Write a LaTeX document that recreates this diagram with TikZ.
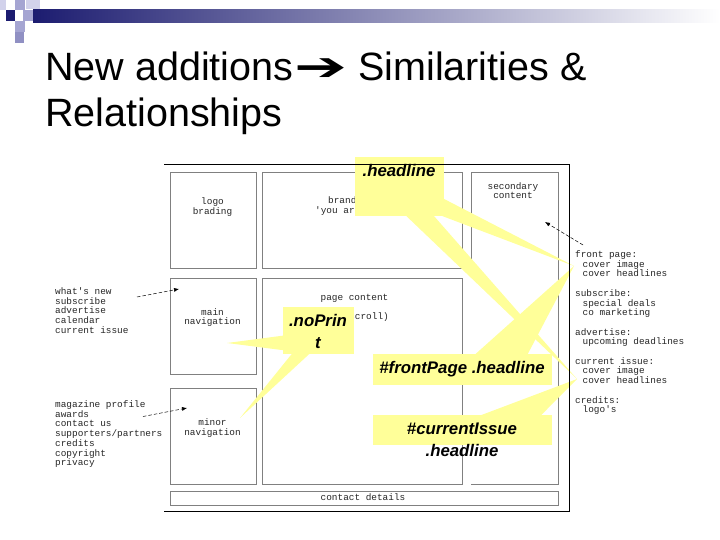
\documentclass[tikz,border=0pt]{standalone}
\usepackage{fontspec}
\setmainfont{Liberation Sans}
\newfontfamily\wirefont{Liberation Mono}
\newfontfamily\symfont{DejaVu Sans}
\usepackage{tikz}
\usetikzlibrary{arrows.meta,positioning,calc}
\definecolor{callyellow}{RGB}{255,255,153}
\definecolor{navy}{RGB}{28,28,112}
\definecolor{lav}{RGB}{165,165,210}
\definecolor{lavlight}{RGB}{210,210,235}
\definecolor{wiregray}{RGB}{128,128,128}

\begin{document}
\begin{tikzpicture}[x=1pt,y=-1pt,
  >={Latex[length=5pt,width=4pt]},
  wbox/.style={draw=wiregray,line width=0.8pt,inner sep=0pt,anchor=north west},
  wtxt/.style={font=\wirefont\fontsize{9.4}{9.7}\selectfont,inner sep=0pt,text=black!85},
  call/.style={fill=callyellow,inner sep=0pt,anchor=north west},
  calltxt/.style={font=\fontsize{16.8}{21.7}\selectfont\bfseries\itshape,inner sep=0pt,align=center},
  ptr/.style={->,line width=0.5pt,dash pattern=on 3.5pt off 2pt}
]
\useasboundingbox (0,0) rectangle (720,540);

% header band and squares
\shade[left color=navy,right color=white] (33,10) rectangle (720,23);
\fill[lavlight] (0,0) rectangle (6,10);
\fill[lav] (15,0) rectangle (25,10);
\fill[lavlight] (26,0) rectangle (40,9);
\fill[navy] (6,10) rectangle (15,21);
\fill[lav] (23,10) rectangle (33,21);
\fill[lav] (15,21) rectangle (25,32);
\fill[lav!85!navy] (15,32) rectangle (24,43);

% title
\node[anchor=base west,inner sep=0pt,font=\fontsize{39.5}{46}\selectfont] (title) at (45,81)
  {New additions {\symfont\kern-10pt\scalebox{1.6}[1]{➔}} Similarities \&};
\node[anchor=base west,inner sep=0pt,font=\fontsize{39.5}{46}\selectfont] (title2) at (45,127) {Relationships};

% wireframe
\node[wbox,minimum width=86,minimum height=96] (logo) at (170,172) {};
\node[wbox,minimum width=200,minimum height=96] (brand) at (262,172) {};
\node[wbox,minimum width=86,minimum height=96] (mainnav) at (170,278) {};
\node[wbox,minimum width=86,minimum height=96] (minornav) at (170,388) {};
\node[wbox,minimum width=200,minimum height=206] (page) at (262,278) {};
\node[wbox,minimum width=388,minimum height=14] (contact) at (170,491) {};
\draw[wiregray,line width=0.8pt] (471,268) -- (471,172) -- (558,172) -- (558,484) -- (471,484);
\coordinate (secne) at (558,172);

\node[wtxt,align=center] (logotxt) at (212.5,207) {logo\\brading};
\node[wtxt,anchor=base west] (brandtxt) at (328,204) {brand};
\node[wtxt,anchor=base west] (herertxt) at (315,214) {'you are here'};
\node[wtxt,align=center] (sectxt) at (513,190.5) {secondary\\content};
\node[wtxt,align=center] (maintxt) at (212.5,317.5) {main\\navigation};
\node[wtxt,align=center] (minortxt) at (212.5,428) {minor\\navigation};
\node[wtxt] (pagetxt) at (354.5,298.5) {page content};
\node[wtxt,anchor=east] (scrolltxt) at (389,317.5) {(scroll)};
\node[wtxt] (contacttxt) at (363,497.5) {contact details};

\node[wtxt,align=left,anchor=north west] (whatsnew) at (55,287.5)
  {what's new\\subscribe\\advertise\\calendar\\current issue};
\node[wtxt,align=left,anchor=north west] (profile) at (55,400.5)
  {magazine profile\\awards\\contact us\\supporters/partners\\credits\\copyright\\privacy};
\node[wtxt,align=left,anchor=north west] (features) at (575,250.5)
  {front page:\\\hspace*{7.5pt}cover image\\\hspace*{7.5pt}cover headlines\\[9.7pt]
   subscribe:\\\hspace*{7.5pt}special deals\\\hspace*{7.5pt}co marketing\\[9.7pt]
   advertise:\\\hspace*{7.5pt}upcoming deadlines\\[9.7pt]
   current issue:\\\hspace*{7.5pt}cover image\\\hspace*{7.5pt}cover headlines\\[9.7pt]
   credits:\\\hspace*{7.5pt}logo's};

% pointers
\coordinate (wnfrom) at (137,297);
\coordinate (mpfrom) at (143,416.5);
\coordinate (fpfrom) at (583,245);
\draw[ptr] (wnfrom) -- ([xshift=9pt,yshift=-11pt]mainnav.north west);
\draw[ptr] (mpfrom) -- ([xshift=17pt,yshift=-20pt]minornav.north west);
\draw[ptr] (fpfrom) -- ([xshift=-13pt,yshift=-50pt]secne);

% callouts
\coordinate (tipfront) at (574,266);
\coordinate (tipissue) at (577,379);
\coordinate (tipmain) at (227,343);
\coordinate (tipminor) at (240,418);
\node[call,minimum width=89.7,minimum height=59] (hlbox) at (354.3,156.7) {};
\node[call,minimum width=70.6,minimum height=47.3] (npbox) at (282.7,306.7) {};
\node[call,minimum width=179.4,minimum height=30.7] (fpbox) at (372.3,354) {};
\node[call,minimum width=179.4,minimum height=30.7] (cibox) at (372.3,414.3) {};
\fill[callyellow] ([xshift=-2pt,yshift=18pt]hlbox.south east) -- (tipfront) -- ([xshift=-2pt]hlbox.south east) -- cycle;
\fill[callyellow] ([xshift=50pt,yshift=2pt]hlbox.south west) -- (tipissue) -- ([xshift=78pt,yshift=2pt]hlbox.south west) -- cycle;
\fill[callyellow] ([xshift=2pt,yshift=19pt]npbox.south west) -- (tipmain) -- ([xshift=2pt,yshift=4pt]npbox.south west) -- cycle;
\fill[callyellow] ([xshift=10.3pt,yshift=2pt]npbox.south west) -- (tipminor) -- ([xshift=28.3pt,yshift=2pt]npbox.south west) -- cycle;
\fill[callyellow] ([xshift=101pt,yshift=-2pt]fpbox.north west) -- (tipfront) -- ([xshift=154.4pt,yshift=-2pt]fpbox.north west) -- cycle;
\fill[callyellow] ([xshift=105.7pt,yshift=-2pt]cibox.north west) -- (tipissue) -- ([xshift=167.7pt,yshift=-2pt]cibox.north west) -- cycle;

\node[calltxt] (hltxt) at (399,170.5) {.headline};
\node[calltxt] (nptxt) at (318,331.5) {.noPrin\\t};
\node[calltxt] (fptxt) at (462,369.5) {\#frontPage .headline};
\node[calltxt] (citxt) at (462,440) {\#currentIssue\\.headline};

% outer frame
\draw[line width=0.9pt] (164,164) -- (569,164) -- (569,511) -- (164,511);
\end{tikzpicture}
\end{document}
